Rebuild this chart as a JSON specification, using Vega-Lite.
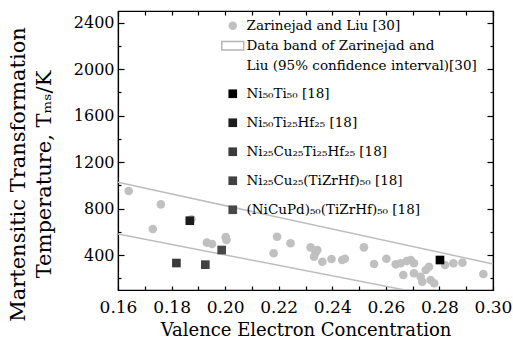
{
  "$schema": "https://vega.github.io/schema/vega-lite/v6.json",
  "width": 375,
  "height": 279,
  "autosize": {"type": "none"},
  "padding": {"left": 118, "top": 11, "right": 20, "bottom": 57},
  "background": "white",
  "config": {
    "view": {"stroke": "black", "strokeWidth": 1.2},
    "font": "DejaVu Serif",
    "axis": {
      "labelFont": "DejaVu Serif",
      "titleFont": "DejaVu Serif",
      "labelColor": "black",
      "titleColor": "black",
      "tickColor": "black",
      "domainColor": "black",
      "domainWidth": 1.2,
      "tickWidth": 1.2,
      "grid": false,
      "titleFontWeight": "normal"
    },
    "legend": {
      "labelFont": "DejaVu Serif",
      "labelFontSize": 13.5,
      "labelColor": "black",
      "padding": 0,
      "labelLimit": 400
    }
  },
  "datasets": {
    "band": [
      {"edge": "upper", "vec": 0.16, "tms": 1026},
      {"edge": "upper", "vec": 0.30, "tms": 324},
      {"edge": "lower", "vec": 0.16, "tms": 582},
      {"edge": "lower", "vec": 0.2671, "tms": 100}
    ],
    "zl": [
      {"series": "Zarinejad and Liu [30]", "vec": 0.164, "tms": 952},
      {"series": "Zarinejad and Liu [30]", "vec": 0.176, "tms": 837},
      {"series": "Zarinejad and Liu [30]", "vec": 0.173, "tms": 625},
      {"series": "Zarinejad and Liu [30]", "vec": 0.1874, "tms": 708},
      {"series": "Zarinejad and Liu [30]", "vec": 0.1932, "tms": 507},
      {"series": "Zarinejad and Liu [30]", "vec": 0.1951, "tms": 496},
      {"series": "Zarinejad and Liu [30]", "vec": 0.2002, "tms": 556},
      {"series": "Zarinejad and Liu [30]", "vec": 0.2005, "tms": 530},
      {"series": "Zarinejad and Liu [30]", "vec": 0.2194, "tms": 558},
      {"series": "Zarinejad and Liu [30]", "vec": 0.2181, "tms": 416},
      {"series": "Zarinejad and Liu [30]", "vec": 0.2244, "tms": 502},
      {"series": "Zarinejad and Liu [30]", "vec": 0.2319, "tms": 467},
      {"series": "Zarinejad and Liu [30]", "vec": 0.2344, "tms": 444},
      {"series": "Zarinejad and Liu [30]", "vec": 0.2332, "tms": 386},
      {"series": "Zarinejad and Liu [30]", "vec": 0.2337, "tms": 421},
      {"series": "Zarinejad and Liu [30]", "vec": 0.2363, "tms": 343},
      {"series": "Zarinejad and Liu [30]", "vec": 0.2397, "tms": 367},
      {"series": "Zarinejad and Liu [30]", "vec": 0.2437, "tms": 358},
      {"series": "Zarinejad and Liu [30]", "vec": 0.2447, "tms": 369},
      {"series": "Zarinejad and Liu [30]", "vec": 0.2518, "tms": 467},
      {"series": "Zarinejad and Liu [30]", "vec": 0.2556, "tms": 324},
      {"series": "Zarinejad and Liu [30]", "vec": 0.2602, "tms": 369},
      {"series": "Zarinejad and Liu [30]", "vec": 0.2637, "tms": 321},
      {"series": "Zarinejad and Liu [30]", "vec": 0.2655, "tms": 330},
      {"series": "Zarinejad and Liu [30]", "vec": 0.2678, "tms": 349},
      {"series": "Zarinejad and Liu [30]", "vec": 0.2693, "tms": 358},
      {"series": "Zarinejad and Liu [30]", "vec": 0.2705, "tms": 330},
      {"series": "Zarinejad and Liu [30]", "vec": 0.2665, "tms": 229},
      {"series": "Zarinejad and Liu [30]", "vec": 0.2705, "tms": 244},
      {"series": "Zarinejad and Liu [30]", "vec": 0.2730, "tms": 214},
      {"series": "Zarinejad and Liu [30]", "vec": 0.2749, "tms": 272},
      {"series": "Zarinejad and Liu [30]", "vec": 0.2761, "tms": 300},
      {"series": "Zarinejad and Liu [30]", "vec": 0.2767, "tms": 186},
      {"series": "Zarinejad and Liu [30]", "vec": 0.2780, "tms": 158},
      {"series": "Zarinejad and Liu [30]", "vec": 0.2736, "tms": 171},
      {"series": "Zarinejad and Liu [30]", "vec": 0.2821, "tms": 315},
      {"series": "Zarinejad and Liu [30]", "vec": 0.2852, "tms": 330},
      {"series": "Zarinejad and Liu [30]", "vec": 0.2886, "tms": 335},
      {"series": "Zarinejad and Liu [30]", "vec": 0.2964, "tms": 238}
    ],
    "alloys": [
      {"alloy": "Ni₅₀Ti₅₀ [18]", "vec": 0.2802, "tms": 358},
      {"alloy": "Ni₅₀Ti₂₅Hf₂₅ [18]", "vec": 0.1868, "tms": 696},
      {"alloy": "Ni₂₅Cu₂₅Ti₂₅Hf₂₅ [18]", "vec": 0.1818, "tms": 332},
      {"alloy": "Ni₂₅Cu₂₅(TiZrHf)₅₀ [18]", "vec": 0.1926, "tms": 318},
      {"alloy": "(NiCuPd)₅₀(TiZrHf)₅₀ [18]", "vec": 0.1987, "tms": 444}
    ]
  },
  "layer": [
    {
      "data": {"name": "band"},
      "mark": {"type": "line", "color": "#bdbdbd", "strokeWidth": 1.5, "clip": true},
      "encoding": {
        "x": {
          "field": "vec", "type": "quantitative",
          "scale": {"domain": [0.16, 0.30], "nice": false, "zero": false},
          "axis": {
            "orient": "bottom",
            "values": [0.16, 0.17, 0.18, 0.19, 0.20, 0.21, 0.22, 0.23, 0.24, 0.25, 0.26, 0.27, 0.28, 0.29, 0.30],
            "labelExpr": "round(datum.value*100) % 2 === 0 ? format(datum.value, '.2f') : ''",
            "tickSize": -4,
            "labelPadding": 13,
            "labelFontSize": 17,
            "labelFlush": false,
            "labelOverlap": false,
            "title": "Valence Electron Concentration",
            "titleFontSize": 18,
            "titlePadding": 6
          }
        },
        "y": {
          "field": "tms", "type": "quantitative",
          "scale": {"domain": [100, 2500], "nice": false, "zero": false},
          "axis": {
            "orient": "left",
            "values": [200, 400, 600, 800, 1000, 1200, 1400, 1600, 1800, 2000, 2200, 2400],
            "format": "d",
            "labelExpr": "datum.value % 400 === 0 ? datum.label : ''",
            "tickSize": {"condition": {"test": "datum.value % 400 === 0", "value": -6}, "value": -3},
            "labelPadding": 10,
            "labelFontSize": 16,
            "labelOverlap": false,
            "title": ["Martensitic Transformation", "Temperature, Tₘₛ/K"],
            "titleFontSize": 21,
            "titleLineHeight": 26,
            "titleBaseline": "top",
            "titleAlign": "center",
            "titleAngle": -90,
            "titleX": -111,
            "titleY": 163
          }
        },
        "detail": {"field": "edge", "type": "nominal"}
      }
    },
    {
      "data": {"name": "zl"},
      "mark": {"type": "point", "filled": true, "size": 75, "opacity": 1, "strokeWidth": 1.5},
      "encoding": {
        "x": {
          "field": "vec", "type": "quantitative",
          "axis": {
            "orient": "top",
            "values": [0.16, 0.17, 0.18, 0.19, 0.20, 0.21, 0.22, 0.23, 0.24, 0.25, 0.26, 0.27, 0.28, 0.29, 0.30],
            "labels": false, "tickSize": -4, "title": null
          }
        },
        "y": {
          "field": "tms", "type": "quantitative",
          "axis": {
            "orient": "right",
            "values": [200, 400, 600, 800, 1000, 1200, 1400, 1600, 1800, 2000, 2200, 2400],
            "labels": false,
            "tickSize": {"condition": {"test": "datum.value % 400 === 0", "value": -6}, "value": -3},
            "title": null
          }
        },
        "shape": {
          "field": "series", "type": "nominal",
          "scale": {
            "domain": ["Zarinejad and Liu [30]", "Data band of Zarinejad and", "Liu (95% confidence interval)[30]"],
            "range": ["circle", "M-2.6,-1H2.6V1H-2.6Z", "circle"]
          },
          "legend": {
            "orient": "none", "legendX": 108, "legendY": 8, "title": null,
            "symbolSize": 71, "rowPadding": 5, "labelOffset": 7
          }
        },
        "fill": {
          "field": "series", "type": "nominal",
          "scale": {
            "domain": ["Zarinejad and Liu [30]", "Data band of Zarinejad and", "Liu (95% confidence interval)[30]"],
            "range": ["#c0c0c0", "#ffffff", "transparent"]
          },
          "legend": {
            "orient": "none", "legendX": 108, "legendY": 8, "title": null,
            "symbolSize": 71, "rowPadding": 5, "labelOffset": 7
          }
        },
        "stroke": {
          "field": "series", "type": "nominal",
          "scale": {
            "domain": ["Zarinejad and Liu [30]", "Data band of Zarinejad and", "Liu (95% confidence interval)[30]"],
            "range": ["transparent", "#b5b5b5", "transparent"]
          },
          "legend": {
            "orient": "none", "legendX": 108, "legendY": 8, "title": null,
            "symbolSize": 71, "rowPadding": 5, "labelOffset": 7
          }
        }
      }
    },
    {
      "data": {"name": "alloys"},
      "mark": {"type": "square", "size": 75, "opacity": 1},
      "encoding": {
        "x": {"field": "vec", "type": "quantitative", "axis": null},
        "y": {"field": "tms", "type": "quantitative", "axis": null},
        "color": {
          "field": "alloy", "type": "nominal",
          "scale": {
            "domain": ["Ni₅₀Ti₅₀ [18]", "Ni₅₀Ti₂₅Hf₂₅ [18]", "Ni₂₅Cu₂₅Ti₂₅Hf₂₅ [18]", "Ni₂₅Cu₂₅(TiZrHf)₅₀ [18]", "(NiCuPd)₅₀(TiZrHf)₅₀ [18]"],
            "range": ["#000000", "#1c1c1c", "#3a3a3a", "#414141", "#484848"]
          },
          "legend": {
            "orient": "none", "legendX": 108, "legendY": 76, "title": null,
            "symbolType": "square", "symbolSize": 75, "rowPadding": 14, "labelOffset": 7
          }
        }
      }
    }
  ],
  "resolve": {"axis": {"x": "independent", "y": "independent"}}
}
